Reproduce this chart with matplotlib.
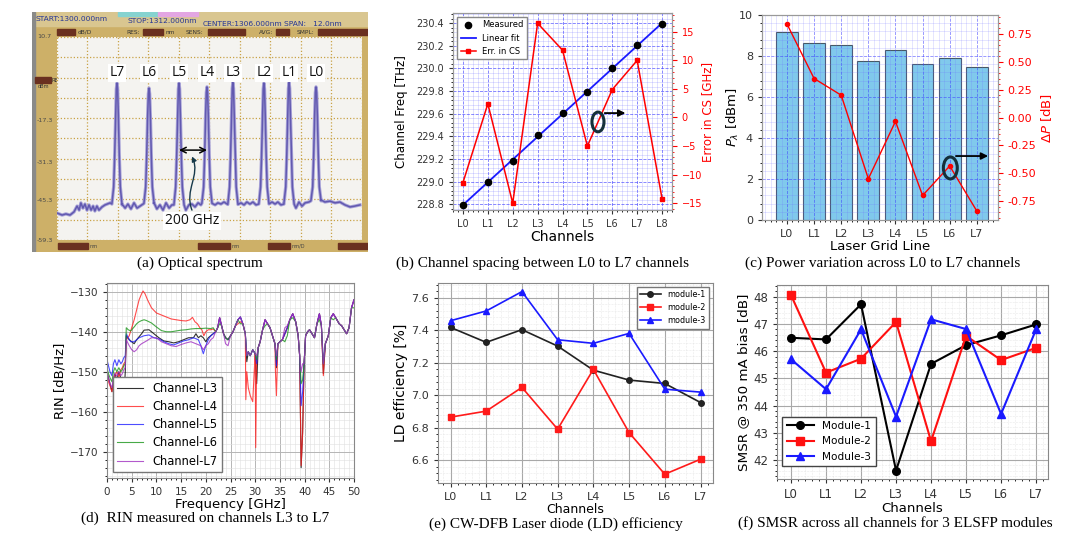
import numpy as np
import matplotlib
matplotlib.use("Agg")
import matplotlib.pyplot as plt
from matplotlib.ticker import AutoMinorLocator, FormatStrFormatter
from matplotlib.patches import Rectangle, Ellipse, FancyArrowPatch
from matplotlib.path import Path

plt.rcParams['font.family'] = ['DejaVu Sans']
plt.rcParams['axes.unicode_minus'] = True

# ---------------- data ----------------
# (a) optical spectrum
spec_floor_wl = [1300.00, 1300.20, 1300.35, 1300.51, 1300.67, 1300.79, 1300.87, 1300.94, 1301.02, 1301.10,
                 1301.18, 1301.26, 1301.34, 1301.42, 1301.49, 1301.57, 1301.65, 1301.77, 1301.89, 1302.09,
                 1302.56, 1302.68, 1302.79, 1302.91, 1303.03, 1303.15, 1303.27, 1303.42,
                 1303.82, 1303.93, 1304.05, 1304.17, 1304.29, 1304.41, 1304.52, 1304.64,
                 1304.96, 1305.07, 1305.19, 1305.31, 1305.43, 1305.55, 1305.66,
                 1306.10, 1306.22, 1306.33, 1306.45, 1306.57, 1306.73,
                 1307.12, 1307.24, 1307.36, 1307.47, 1307.59, 1307.71, 1307.83, 1307.95,
                 1308.30, 1308.46, 1308.58, 1308.69, 1308.81, 1308.93,
                 1309.28, 1309.40, 1309.52, 1309.64, 1309.76, 1309.91,
                 1310.39, 1310.54, 1310.74, 1310.94, 1311.13, 1311.33, 1311.53, 1311.72, 1311.92]
spec_floor_dbm = [-50.0, -50.7, -50.3, -50.7, -49.6, -47.6, -49.0, -46.5, -48.3, -46.9,
                  -49.0, -47.2, -49.0, -47.6, -49.3, -47.6, -49.0, -47.9, -47.2, -46.5,
                  -47.2, -48.3, -46.9, -48.6, -46.5, -48.3, -47.6, -46.9,
                  -46.5, -48.6, -47.2, -49.0, -46.5, -48.3, -47.2, -46.5,
                  -47.9, -49.0, -47.2, -46.9, -47.9, -46.5, -47.2,
                  -46.2, -47.2, -46.5, -46.9, -46.2, -46.9,
                  -47.2, -46.5, -47.2, -46.2, -46.9, -46.2, -47.2, -46.5,
                  -47.2, -46.2, -46.9, -46.2, -47.2, -46.5,
                  -47.2, -48.3, -46.2, -47.6, -46.5, -46.2,
                  -45.5, -46.2, -45.9, -46.5, -46.2, -47.2, -47.9, -47.6, -47.2]
spec_peak_wl = [1302.36, 1303.62, 1304.80, 1305.90, 1306.92, 1308.14, 1309.13, 1310.19]
spec_peak_dbm = [-5.2, -6.9, -5.2, -6.5, -5.0, -5.2, -5.0, -6.5]
spec_peak_names = ['L7', 'L6', 'L5', 'L4', 'L3', 'L2', 'L1', 'L0']

# (b) channel spacing
b_channels = ['L0', 'L1', 'L2', 'L3', 'L4', 'L5', 'L6', 'L7', 'L8']
b_freq_thz = [228.79, 229.00, 229.18, 229.41, 229.61, 229.79, 230.00, 230.21, 230.39]
b_err_ghz = [-11.4, 2.4, -15.0, 16.5, 11.8, -5.0, 4.9, 10.0, -14.2]

# (c) power variation
c_channels = ['L0', 'L1', 'L2', 'L3', 'L4', 'L5', 'L6', 'L7']
c_power_dbm = [9.15, 8.65, 8.52, 7.77, 8.27, 7.62, 7.88, 7.47]
c_delta_db = [0.84, 0.35, 0.20, -0.55, -0.035, -0.70, -0.435, -0.84]

# (d) RIN, low-frequency part per channel
rin_names = ['Channel-L3', 'Channel-L4', 'Channel-L5', 'Channel-L6', 'Channel-L7']
rin_colors = ['#000000', '#ff2020', '#2020ff', '#1a951a', '#a030c0']
rin_lf_f = {
    'Channel-L3': [0, 0.3, 0.6, 1.0, 1.3, 1.6, 2.0, 2.4, 2.8, 3.1, 3.4, 3.7, 3.9, 4.5, 5.0, 5.5, 6.0, 7.0, 7.5,
                   8.5, 9.5, 10.5, 11.5, 12.5, 13.5, 14.5, 15.5, 16.5, 17.5, 18.0, 18.5, 19.0, 19.5, 20.0, 20.5,
                   21.0, 21.5],
    'Channel-L4': [0, 0.3, 0.6, 1.0, 1.3, 1.6, 2.0, 2.4, 2.8, 3.1, 3.4, 3.7, 3.9, 4.5, 5.0, 5.5, 6.0, 6.5, 7.0,
                   7.3, 7.7, 8.2, 9.0, 10.0, 11.0, 12.0, 13.0, 14.0, 15.0, 16.0, 16.8, 17.3, 17.8, 18.3, 18.8,
                   19.2, 19.6, 20.0, 20.5, 21.0, 21.5],
    'Channel-L5': [0, 0.3, 0.6, 1.0, 1.3, 1.6, 2.0, 2.4, 2.8, 3.1, 3.4, 3.7, 3.9, 4.3, 4.8, 5.5, 6.0, 6.5, 7.5,
                   8.5, 9.5, 10.5, 11.5, 12.5, 13.5, 14.5, 15.5, 16.5, 17.5, 18.5, 19.0, 19.5, 20.0, 20.5, 21.0,
                   21.5],
    'Channel-L6': [0, 0.3, 0.6, 1.0, 1.3, 1.6, 2.0, 2.4, 2.8, 3.1, 3.4, 3.7, 3.9, 4.3, 4.8, 5.5, 6.0, 6.5, 7.0,
                   7.5, 8.0, 9.0, 10.0, 11.0, 12.0, 13.0, 14.0, 15.0, 16.0, 17.0, 18.0, 19.0, 20.0, 21.0, 21.5],
    'Channel-L7': [0, 0.3, 0.6, 1.0, 1.3, 1.6, 2.0, 2.4, 2.8, 3.1, 3.4, 3.7, 3.9, 4.5, 5.0, 5.5, 6.0, 6.5, 7.0,
                   8.0, 9.0, 10.0, 11.0, 12.0, 13.0, 14.0, 15.0, 16.0, 17.0, 18.0, 19.0, 19.5, 20.0, 20.5, 21.0,
                   21.5],
}
rin_lf_v = {
    'Channel-L3': [-150, -151.5, -153, -155, -152, -150.5, -152, -150, -151.5, -155.5, -157, -150, -141, -142,
                   -142.5, -143, -142, -140.5, -139.6, -139.5, -140.5, -141.5, -142.3, -142.5, -142.8, -142.5,
                   -142, -141.5, -141.5, -140.5, -141.5, -141, -141.5, -142.5, -141.5, -141, -140.5],
    'Channel-L4': [-151, -152.5, -153.5, -155, -153, -151, -150, -151.5, -149.5, -149, -148, -147.5, -142, -141,
                   -139, -137, -134.5, -132, -130.5, -129.8, -130.5, -132, -134, -135.3, -135.8, -136.3, -136.8,
                   -137, -137.2, -137.3, -137, -136.4, -137.5, -138, -139, -139.5, -141, -140, -139.5, -139.5,
                   -139.3],
    'Channel-L5': [-147, -148.5, -150, -151, -148, -147, -148.5, -147, -148, -147.5, -146.5, -146, -140.5,
                   -141.5, -142.5, -142.5, -142, -141.5, -141, -140.8, -141.5, -141.8, -142.5, -143, -143.3,
                   -142.8, -142.3, -142, -141.5, -142, -143.5, -145.5, -143.5, -142, -141, -140.5],
    'Channel-L6': [-149, -150.5, -151.5, -152.5, -150, -149, -150, -149, -150, -149.5, -148.5, -148, -139,
                   -139.5, -139.8, -138.8, -138, -137.5, -137.2, -137, -137.2, -137.8, -138.8, -139.7, -140,
                   -140, -139.8, -139.6, -139.5, -139.3, -139.2, -139.2, -139.1, -139.2, -139],
    'Channel-L7': [-150, -151.5, -153, -154, -151.5, -150.5, -151, -150, -151, -150.5, -149.5, -149, -142,
                   -143.5, -144.5, -145, -144.5, -143.5, -143, -142.3, -141.5, -141.5, -142.5, -143, -143.5,
                   -143.7, -143.2, -142.8, -142.5, -143, -143.5, -144.5, -143.5, -143, -142, -141.5],
}
# (d) RIN, high-frequency part shared by all channels + per-channel readings
rin_hf_f = [22.0, 22.4, 22.8, 23.2, 23.6, 24.0, 24.5, 25.0, 25.5, 26.0, 26.5, 27.0, 27.5, 28.0, 28.3, 28.6,
            29.0, 29.5, 30.0, 30.3, 30.6, 31.0, 31.5, 32.0, 32.5, 33.0, 33.5, 34.0, 34.3, 34.6, 35.0, 35.5,
            36.0, 36.5, 37.0, 37.6, 38.2, 38.7, 39.0, 39.3, 39.6, 39.9, 40.2, 40.6, 41.0, 41.5, 42.0, 42.5,
            43.0, 43.4, 43.8, 44.2, 44.8, 45.3, 45.8, 46.3, 47.0, 47.5, 48.0, 48.5, 49.0, 49.5, 50.0]
rin_hf_v = [-140.0, -139.0, -136.5, -138.5, -140.5, -141.5, -142.0, -141.0, -140.0, -138.5, -137.0, -136.3,
            -138.0, -140.5, -146.0, -145.0, -146.0, -144.5, -145.5, -147.0, -144.0, -142.5, -139.5, -137.0,
            -138.0, -139.0, -141.0, -143.0, -146.0, -143.0, -142.5, -142.0, -140.5, -139.0, -137.0, -135.5,
            -137.5, -141.0, -146.0, -155.0, -152.0, -148.0, -141.0, -140.0, -139.5, -140.5, -141.5, -138.0,
            -135.5, -138.5, -148.0, -143.0, -141.0, -136.5, -135.5, -136.5, -138.0, -138.5, -139.5, -140.5,
            -139.0, -134.0, -132.0]
rin_hf_channel = {
    'Channel-L3': {28.3: -147.5, 30.3: -153.0, 34.3: -149.0, 39.3: -174.0, 39.6: -165.0, 43.8: -150.5},
    'Channel-L4': {26.5: -138.0, 27.0: -137.5, 28.1: -157.0, 28.3: -150.0, 28.6: -154.0, 29.0: -156.0,
                   29.5: -157.5, 29.8: -150.0, 30.1: -169.0, 30.4: -146.0, 34.1: -150.0, 34.3: -156.0,
                   39.3: -173.5, 39.6: -165.5, 43.8: -151.0},
    'Channel-L5': {30.3: -148.0, 34.3: -148.5, 39.3: -158.5, 39.6: -155.0},
    'Channel-L6': {22.8: -138.0, 27.0: -138.0, 32.0: -138.5, 34.3: -147.0, 36.0: -142.5, 36.5: -141.0,
                   37.6: -136.5, 39.3: -153.0, 43.0: -137.0, 45.8: -137.0, 50.0: -134.0},
    'Channel-L7': {24.0: -143.0, 24.5: -143.5, 30.3: -146.0, 36.0: -139.0, 36.5: -138.5, 39.3: -150.0,
                   39.6: -148.0},
}

# (e) LD efficiency
e_channels = ['L0', 'L1', 'L2', 'L3', 'L4', 'L5', 'L6', 'L7']
e_module1 = [7.417, 7.325, 7.403, 7.302, 7.154, 7.093, 7.072, 6.955]
e_module2 = [6.865, 6.902, 7.048, 6.791, 7.159, 6.770, 6.514, 6.606]
e_module3 = [7.458, 7.518, 7.637, 7.341, 7.319, 7.380, 7.037, 7.019]

# (f) SMSR
f_channels = ['L0', 'L1', 'L2', 'L3', 'L4', 'L5', 'L6', 'L7']
f_module1 = [46.49, 46.43, 47.72, 41.61, 45.53, 46.22, 46.58, 46.98]
f_module2 = [48.06, 45.21, 45.72, 47.07, 42.69, 46.56, 45.67, 46.12]
f_module3 = [45.70, 44.60, 46.80, 43.59, 47.17, 46.81, 43.69, 46.80]

captions = ['(a) Optical spectrum',
            '(b) Channel spacing between L0 to L7 channels',
            '(c) Power variation across L0 to L7 channels',
            '(d)  RIN measured on channels L3 to L7',
            '(e) CW-DFB Laser diode (LD) efficiency',
            '(f) SMSR across all channels for 3 ELSFP modules']

# ---------------- figure ----------------
W, H = 1080, 535
fig = plt.figure(figsize=(W / 100, H / 100), dpi=100)
fig.patch.set_facecolor('white')


def px_axes(l, t, r, b, **kw):
    return fig.add_axes([l / W, 1 - b / H, (r - l) / W, (b - t) / H], **kw)


def caption(text, cx, cy):
    fig.text(cx / W, 1 - cy / H, text, ha='center', va='center', fontsize=11,
             family=['Liberation Serif', 'DejaVu Serif'])


# ---------- (a) photo-like spectrum ----------
frame = px_axes(32, 12, 368, 252)
frame.set_xlim(32, 368)
frame.set_ylim(252, 12)
frame.axis('off')
frame.add_patch(Rectangle((32, 12), 336, 240, color='#cdb068', zorder=0))
frame.add_patch(Rectangle((32, 12), 336, 14, color='#d9c690', zorder=0))
frame.add_patch(Rectangle((32, 12), 3, 240, color='#8a8a88', zorder=1))
frame.add_patch(Rectangle((118, 12), 40, 4, color='#86d3d0', zorder=1))
frame.add_patch(Rectangle((158, 12), 40, 4, color='#e3a6e3', zorder=1))
navy = '#243596'
frame.text(36, 19, 'START:1300.000nm', fontsize=5.4, color=navy, va='center')
frame.text(128, 21, 'STOP:1312.000nm', fontsize=5.4, color=navy, va='center')
frame.text(203, 24, 'CENTER:1306.000nm', fontsize=5.4, color=navy, va='center')
frame.text(284, 24, 'SPAN:   12.0nm', fontsize=5.4, color=navy, va='center')
brown = '#6a3020'
for (bx, bw) in [(57, 18), (143, 20), (208, 37), (276, 13), (318, 50)]:
    frame.add_patch(Rectangle((bx, 29), bw, 6, color=brown, zorder=1))
for (tx, tt) in [(78, 'dB/D'), (126, 'RES:'), (166, 'nm'), (186, 'SENS:'), (259, 'AVG:'), (297, 'SMPL:')]:
    frame.text(tx, 32, tt, fontsize=4.2, color='#333333', va='center')
for (ly, lt) in [(37, '10.7'), (120, '-17.3'), (162, '-31.3'), (200, '-45.3'), (240, '-59.3')]:
    frame.text(37, ly, lt, fontsize=4.6, color='#4a4a4a', va='center')
frame.add_patch(Rectangle((35, 77), 16, 6, color=brown, zorder=1))
frame.text(52, 80, 'REF', fontsize=3.8, color='#333333', va='center')
frame.text(38, 86, 'dBm', fontsize=3.6, color='#333333', va='center')
for (bx, bw, bt) in [(58, 30, 'nm'), (198, 32, 'nm'), (268, 22, 'nm/D'), (338, 30, '')]:
    frame.add_patch(Rectangle((bx, 243), bw, 6, color=brown, zorder=1))
    if bt:
        frame.text(bx + bw + 2, 246, bt, fontsize=3.6, color='#444444', va='center')

axa = px_axes(57, 37, 362, 240)
axa.set_facecolor('#f4f3f0')
axa.set_xlim(1300, 1312)
axa.set_ylim(-59.3, 10.7)
axa.set_xticks(np.arange(1300, 1312.01, 1.2))
axa.set_yticks(np.arange(-59.3, 10.8, 7.0))
axa.tick_params(length=0, labelbottom=False, labelleft=False)
axa.grid(True, color='#c9a347', lw=0.9, ls=(0, (1, 1.6)))
for s in axa.spines.values():
    s.set_visible(False)

peak_dx = [-0.20, -0.13, -0.09, -0.055, -0.025, 0.0, 0.025, 0.055, 0.09, 0.13, 0.20]
peak_lvl_rel = ['base', -41, -30, -17, 'top-', 'top', 'top-', -17, -30, -41, 'base']
pts = [(w, d) for w, d in zip(spec_floor_wl, spec_floor_dbm)
       if all(abs(w - c) > 0.20 for c in spec_peak_wl)]
for c, top in zip(spec_peak_wl, spec_peak_dbm):
    base = np.interp(c, spec_floor_wl, spec_floor_dbm)
    for dx, lv in zip(peak_dx, peak_lvl_rel):
        if lv == 'base':
            y = base
        elif lv == 'top':
            y = top
        elif lv == 'top-':
            y = top - 2.0
        else:
            y = lv
        pts.append((c + dx, y))
pts.sort()
tw, td = zip(*pts)
axa.plot(tw, td, color='#a9a4d8', lw=2.4, zorder=2)
axa.plot(tw, td, color='#6259b0', lw=1.1, zorder=3)
for c, nm in zip(spec_peak_wl, spec_peak_names):
    axa.text(c, -1.7, nm, ha='center', va='center', fontsize=10, color='#111111', zorder=5,
             family=['Open Sans', 'DejaVu Sans'],
             bbox=dict(facecolor='white', edgecolor='none', pad=1.0))
axa.annotate('', xy=(spec_peak_wl[2], -28.3), xytext=(spec_peak_wl[3], -28.3),
             arrowprops=dict(arrowstyle='<->', color='black', lw=1.1, shrinkA=0, shrinkB=0), zorder=6)
curve = Path([(1305.31, -49.0), (1305.0, -42.0), (1305.65, -37.0), (1305.31, -30.5)],
             [Path.MOVETO, Path.CURVE4, Path.CURVE4, Path.CURVE4])
axa.add_patch(FancyArrowPatch(path=curve, arrowstyle='-|>', mutation_scale=7, color='#17394a',
                              lw=1.0, zorder=6))
axa.text(1305.31, -52.7, '200 GHz', ha='center', va='center', fontsize=10, color='#111111', zorder=6,
         family=['Open Sans', 'DejaVu Sans'],
         bbox=dict(facecolor='white', edgecolor='none', pad=1.0))
caption(captions[0], 200, 263)

# ---------- (b) channel spacing ----------
axb = px_axes(453, 13, 672, 210)
xb = np.arange(len(b_channels))
fit = np.polyfit(xb, b_freq_thz, 1)
hb1, = axb.plot(xb, b_freq_thz, 'o', color='black', ms=4.5, label='Measured', zorder=4)
hb2, = axb.plot(xb, np.polyval(fit, xb), color='#1a1aff', lw=1.3, label='Linear fit', zorder=3)
axb.set_xlim(-0.4, 8.4)
axb.set_ylim(228.75, 230.49)
axb.set_xticks(xb)
axb.set_xticklabels(b_channels)
axb.set_yticks(np.arange(228.8, 230.41, 0.2))
axb.yaxis.set_major_formatter(FormatStrFormatter('%.1f'))
axb.xaxis.set_minor_locator(AutoMinorLocator(5))
axb.yaxis.set_minor_locator(AutoMinorLocator(5))
axb.grid(which='major', color='#3a3aff', ls='--', lw=0.6, alpha=0.7)
axb.grid(which='minor', color='#6a6aff', ls='-', lw=0.4, alpha=0.35)
axb.tick_params(labelsize=7, length=3, colors='#333333')
axb.tick_params(which='minor', length=1.5)
axb.set_xlabel('Channels', fontsize=10, labelpad=1)
axb.set_ylabel('Channel Freq [THz]', fontsize=8.5)
axb.yaxis.set_label_coords(-0.205, 0.5)
for s in axb.spines.values():
    s.set_color('#999999')
axb2 = axb.twinx()
hb3, = axb2.plot(xb, b_err_ghz, '-s', color='red', ms=3, lw=1.1, label='Err. in CS')
axb2.set_ylim(-16.2, 18.3)
axb2.set_yticks([-15, -10, -5, 0, 5, 10, 15])
axb2.yaxis.set_minor_locator(AutoMinorLocator(5))
axb2.tick_params(axis='y', which='both', colors='red', labelsize=7)
axb2.tick_params(axis='y', which='minor', length=1.5)
axb2.set_ylabel('Error in CS [GHz]', color='red', fontsize=8.5)
axb2.yaxis.set_label_coords(1.132, 0.5)
for s in axb2.spines.values():
    s.set_color('#999999')
axb2.legend(handles=[hb1, hb2, hb3], loc='upper left', fontsize=6, framealpha=1,
            edgecolor='#888888', fancybox=False, handlelength=1.8)
axb2.add_patch(Ellipse((0.662, 0.447), 0.055, 0.10, transform=axb2.transAxes, fill=False,
                       edgecolor='#15303a', lw=2.2, zorder=6))
axb2.annotate('', xy=(0.80, 0.492), xytext=(0.68, 0.492), xycoords='axes fraction',
              arrowprops=dict(arrowstyle='-|>', color='black', lw=1.3, mutation_scale=10))
caption(captions[1], 543, 263)

# ---------- (c) power variation ----------
axc = px_axes(762, 15, 998, 220)
xc = np.arange(len(c_channels))
axc.bar(xc, c_power_dbm, width=0.8, color='#72c3ea', edgecolor='#3a4a55', lw=0.8, alpha=0.9, zorder=1)
axc.set_axisbelow(False)
axc.set_xlim(-0.92, 7.78)
axc.set_ylim(0, 10)
axc.set_xticks(xc)
axc.set_xticklabels(c_channels)
axc.set_yticks([0, 2, 4, 6, 8, 10])
axc.xaxis.set_minor_locator(AutoMinorLocator(5))
axc.yaxis.set_minor_locator(AutoMinorLocator(5))
axc.grid(which='major', color='#3a3aff', ls='--', lw=0.6, alpha=0.6)
axc.grid(which='minor', color='#6a6aff', ls='-', lw=0.4, alpha=0.3)
axc.tick_params(labelsize=8, length=3, colors='#333333')
axc.tick_params(which='minor', length=1.5)
axc.set_xlabel('Laser Grid Line', fontsize=9.5, labelpad=1)
axc.set_ylabel(r'$P_\lambda$ [dBm]', fontsize=9.5)
axc.yaxis.set_label_coords(-0.088, 0.5)
for s in axc.spines.values():
    s.set_color('#999999')
axc2 = axc.twinx()
axc2.plot(xc, c_delta_db, '-o', color='red', ms=3, lw=1.0, zorder=5)
axc2.set_ylim(-0.92, 0.92)
axc2.set_yticks([-0.75, -0.5, -0.25, 0, 0.25, 0.5, 0.75])
axc2.yaxis.set_major_formatter(FormatStrFormatter('%.2f'))
axc2.yaxis.set_minor_locator(AutoMinorLocator(5))
axc2.tick_params(axis='y', which='both', colors='red', labelsize=8)
axc2.tick_params(axis='y', which='minor', length=1.5)
axc2.set_ylabel(r'$\Delta P$ [dB]', color='red', fontsize=9.5, labelpad=2)
for s in axc2.spines.values():
    s.set_color('#999999')
axc2.add_patch(Ellipse((0.798, 0.254), 0.059, 0.107, transform=axc2.transAxes, fill=False,
                       edgecolor='#15303a', lw=2.2, zorder=6))
axc2.annotate('', xy=(0.97, 0.312), xytext=(0.81, 0.312), xycoords='axes fraction',
              arrowprops=dict(arrowstyle='-|>', color='black', lw=1.3, mutation_scale=10))
caption(captions[2], 883, 263)

# ---------- (d) RIN ----------
axd = px_axes(107, 283, 354, 478)
for nm, col in zip(rin_names, rin_colors):
    pts = dict(zip(rin_hf_f, rin_hf_v))
    pts.update(rin_hf_channel[nm])
    hf = sorted(pts.items())
    f_all = list(rin_lf_f[nm]) + [p[0] for p in hf]
    v_all = list(rin_lf_v[nm]) + [p[1] for p in hf]
    axd.plot(f_all, v_all, color=col, lw=0.8, alpha=0.8, label=nm)
axd.set_xlim(0, 50)
axd.set_ylim(-176.6, -127.8)
axd.set_xticks(np.arange(0, 51, 5))
axd.set_yticks([-170, -160, -150, -140, -130])
axd.xaxis.set_minor_locator(AutoMinorLocator(5))
axd.yaxis.set_minor_locator(AutoMinorLocator(5))
axd.grid(which='major', color='#b5b5b5', lw=0.7)
axd.grid(which='minor', color='#e0e0e0', lw=0.4)
axd.tick_params(labelsize=7.5, length=3, colors='#333333')
axd.tick_params(which='minor', length=1.5)
axd.set_xlabel('Frequency [GHz]', fontsize=9.5, labelpad=1)
axd.set_ylabel('RIN [dB/Hz]', fontsize=9.5, labelpad=2)
for s in axd.spines.values():
    s.set_color('#888888')
axd.legend(loc='lower left', fontsize=8.3, framealpha=1, edgecolor='#777777', fancybox=False,
           handlelength=2.2, labelspacing=0.45)
caption(captions[3], 205, 518)

# ---------- (e) LD efficiency ----------
axe = px_axes(438, 283, 713, 483)
xe = np.arange(len(e_channels))
axe.plot(xe, e_module1, '-o', color='#222222', ms=4, lw=1.2, label='module-1')
axe.plot(xe, e_module2, '-s', color='#ff1a1a', ms=4, lw=1.2, label='module-2')
axe.plot(xe, e_module3, '-^', color='#1a1aff', ms=4, lw=1.2, label='module-3')
axe.set_xlim(-0.35, 7.35)
axe.set_ylim(6.46, 7.69)
axe.set_xticks(xe)
axe.set_xticklabels(e_channels)
axe.set_yticks([6.6, 6.8, 7.0, 7.2, 7.4, 7.6])
axe.yaxis.set_major_formatter(FormatStrFormatter('%.1f'))
axe.xaxis.set_minor_locator(AutoMinorLocator(5))
axe.yaxis.set_minor_locator(AutoMinorLocator(5))
axe.grid(which='major', color='#a8a8a8', lw=0.8)
axe.grid(which='minor', color='#d8d8d8', lw=0.4, ls=':')
axe.tick_params(labelsize=8, length=3, colors='#333333')
axe.tick_params(which='minor', length=1.5)
axe.set_xlabel('Channels', fontsize=9, labelpad=1)
axe.set_ylabel('LD efficiency [%]', fontsize=10, labelpad=2)
for s in axe.spines.values():
    s.set_color('#888888')
axe.legend(loc='upper right', fontsize=5.8, framealpha=1, edgecolor='#777777', fancybox=False,
           handlelength=2.6)
caption(captions[4], 556, 524)

# ---------- (f) SMSR ----------
axf = px_axes(777, 285, 1048, 479)
xf = np.arange(len(f_channels))
axf.plot(xf, f_module1, '-o', color='black', ms=5.5, lw=1.5, label='Module-1')
axf.plot(xf, f_module2, '-s', color='#ff1010', ms=5.5, lw=1.5, label='Module-2')
axf.plot(xf, f_module3, '-^', color='#1a1aff', ms=5.5, lw=1.5, label='Module-3')
axf.set_xlim(-0.4, 7.34)
axf.set_ylim(41.3, 48.43)
axf.set_xticks(xf)
axf.set_xticklabels(f_channels)
axf.set_yticks([42, 43, 44, 45, 46, 47, 48])
axf.xaxis.set_minor_locator(AutoMinorLocator(5))
axf.yaxis.set_minor_locator(AutoMinorLocator(5))
axf.grid(which='major', color='#a8a8a8', lw=0.8)
axf.grid(which='minor', color='#d8d8d8', lw=0.4, ls=':')
axf.tick_params(labelsize=8.5, length=3, colors='#333333')
axf.tick_params(which='minor', length=1.5)
axf.set_xlabel('Channels', fontsize=9.5, labelpad=1)
axf.set_ylabel('SMSR @ 350 mA bias [dB]', fontsize=9.7, labelpad=2)
for s in axf.spines.values():
    s.set_color('#888888')
axf.legend(loc='lower left', bbox_to_anchor=(0.0, 0.04), fontsize=7.6, framealpha=1,
           edgecolor='#444444', fancybox=False, handlelength=2.6)
caption(captions[5], 895, 523)

fig.savefig('out.png', dpi=100)
